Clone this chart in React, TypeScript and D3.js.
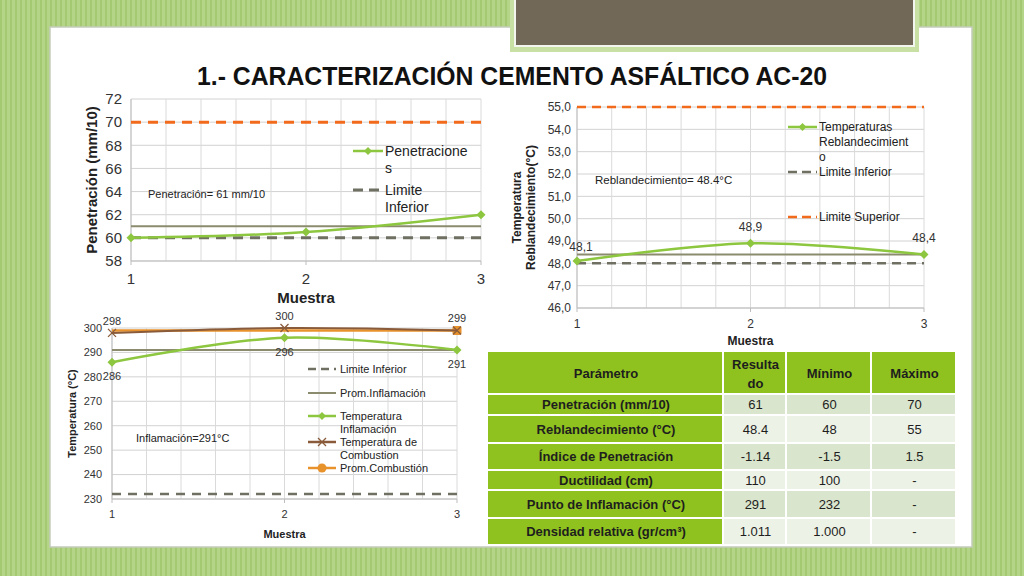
import React from 'react';
import * as d3 from 'd3';

// Data
const muestras = [1, 2, 3];

const penetraciones = [60, 60.5, 62];
const penLimiteInferior = [60, 60, 60];
const penLimiteSuperior = [70, 70, 70];
const penPromedio = [61, 61, 61];
const penTicks = [58, 60, 62, 64, 66, 68, 70, 72];

const reblandecimiento = [48.1, 48.9, 48.4];
const rebLimiteInferior = [48, 48, 48];
const rebLimiteSuperior = [55, 55, 55];
const rebPromedio = [48.4, 48.4, 48.4];
const rebTicks = [46, 47, 48, 49, 50, 51, 52, 53, 54, 55];

const inflamacion = [286, 296, 291];
const combustion = [298, 300, 299];
const promCombustion = [299, 299, 299];
const promInflamacion = [291, 291, 291];
const inflLimiteInferior = [232, 232, 232];
const inflTicks = [230, 240, 250, 260, 270, 280, 290, 300];

const tablaHeader = ['Parámetro', 'Resulta|do', 'Mínimo', 'Máximo'];
const parametros = [
  'Penetración (mm/10)',
  'Reblandecimiento (°C)',
  'Índice de Penetración',
  'Ductilidad (cm)',
  'Punto de Inflamación (°C)',
  'Densidad relativa (gr/cm³)'
];
const resultados = ['61', '48.4', '-1.14', '110', '291', '1.011'];
const minimos = ['60', '48', '-1.5', '100', '232', '1.000'];
const maximos = ['70', '55', '1.5', '-', '-', '-'];

// Colours
const GREEN = '#8dc63f';
const ORANGE = '#f26a1b';
const GREY = '#6f6f62';
const OLIVE = '#8b8c6e';
const BROWN = '#8a5b3a';
const ORANGE2 = '#e8922c';
const FONT = 'Liberation Sans, Arial, sans-serif';

const gridSteps = d3.range(1, 3.0001, 0.2);

function Diamond({ x, y, s = 5, fill }) {
  return <path d={`M${x},${y - s}L${x + s},${y}L${x},${y + s}L${x - s},${y}Z`} fill={fill} />;
}

function Chart({ left, right, top, bottom, domain, ticks, tickFmt, tickSize, series, labels, legend, legendX, lineX, yTitle, yTitleX, xTitleY, annotation, tickLabelGap }) {
  const x = d3.scaleLinear().domain([1, 3]).range([left, right]);
  const y = d3.scaleLinear().domain(domain).range([bottom, top]);
  const line = (vals, smooth) =>
    d3
      .line<number>()
      .x((_, i) => x(muestras[i]))
      .y(d => y(d))
      .curve(smooth ? d3.curveCatmullRom.alpha(0.5) : d3.curveLinear)(vals);

  return (
    <g fontFamily={FONT}>
      {/* grid */}
      {ticks.map(t => (
        <line key={'h' + t} x1={left} x2={right} y1={y(t)} y2={y(t)} stroke="#d2d2d2" strokeWidth={1} />
      ))}
      {gridSteps.map((g, i) => (
        <line key={'v' + i} x1={x(g)} x2={x(g)} y1={top} y2={bottom} stroke="#dadada" strokeWidth={1} />
      ))}
      <line x1={left} x2={left} y1={top} y2={bottom} stroke="#bdbdbd" />
      <line x1={left} x2={right} y1={bottom} y2={bottom} stroke="#bdbdbd" />
      {muestras.map(m => (
        <line key={'t' + m} x1={x(m)} x2={x(m)} y1={bottom} y2={bottom + 4} stroke="#bdbdbd" />
      ))}
      {/* tick labels */}
      {ticks.map(t => (
        <text key={'yl' + t} x={left - tickLabelGap} y={y(t)} dy="0.35em" textAnchor="end" fontSize={tickSize} fill="#333">
          {tickFmt(t)}
        </text>
      ))}
      {muestras.map(m => (
        <text key={'xl' + m} x={x(m)} y={bottom + tickSize + 8} textAnchor="middle" fontSize={tickSize} fill="#333">
          {m}
        </text>
      ))}
      {/* series */}
      {series.map((s, i) => (
        <g key={'s' + i}>
          <path
            d={line(s.values, s.smooth)}
            fill="none"
            stroke={s.color}
            strokeWidth={s.width}
            strokeDasharray={s.dash || null}
          />
          {s.marker &&
            s.values.map((v, j) => {
              if (s.markerAt && !s.markerAt.includes(j)) return null;
              const cx = x(muestras[j]);
              const cy = y(v);
              if (s.marker === 'diamond') return <Diamond key={j} x={cx} y={cy} s={4.5} fill={s.color} />;
              if (s.marker === 'x')
                return (
                  <path key={j} d={`M${cx - 4},${cy - 4}L${cx + 4},${cy + 4}M${cx - 4},${cy + 4}L${cx + 4},${cy - 4}`} stroke={s.color} strokeWidth={1.3} />
                );
              if (s.marker === 'circle') return <rect key={j} x={cx - 4.5} y={cy - 4.5} width={9} height={9} rx={2} fill={s.color} />;
              return null;
            })}
        </g>
      ))}
      {/* data labels */}
      {labels.map((l, i) => (
        <text key={'dl' + i} x={x(muestras[l.i]) + (l.dx || 0)} y={y(l.v) + l.dy} textAnchor="middle" fontSize={l.size} fill="#333">
          {l.text}
        </text>
      ))}
      {/* legend */}
      {legend.items.map((it, i) => (
        <g key={'lg' + i}>
          <line x1={lineX[0]} x2={lineX[1]} y1={it.y} y2={it.y} stroke={it.color} strokeWidth={it.width} strokeDasharray={it.dash || null} />
          {it.marker === 'diamond' && <Diamond x={(lineX[0] + lineX[1]) / 2} y={it.y} s={4} fill={it.color} />}
          {it.marker === 'x' && (
            <path
              d={`M${(lineX[0] + lineX[1]) / 2 - 4},${it.y - 4}l8,8m-8,0l8,-8`}
              stroke={it.color}
              strokeWidth={1.3}
            />
          )}
          {it.marker === 'circle' && <circle cx={(lineX[0] + lineX[1]) / 2} cy={it.y} r={4.5} fill={it.color} />}
          <text x={legendX} y={it.y} dy="0.35em" fontSize={legend.size} fill="#222">
            {it.lines.map((t, k) => (
              <tspan key={k} x={legendX} dy={k === 0 ? '0.35em' : legend.lh}>
                {t}
              </tspan>
            ))}
          </text>
        </g>
      ))}
      {/* annotation */}
      <text x={annotation.x} y={annotation.y} fontSize={annotation.size} fill="#222">
        {annotation.text}
      </text>
      {/* titles */}
      <text
        transform={`translate(${yTitleX},${(top + bottom) / 2}) rotate(-90)`}
        textAnchor="middle"
        fontSize={yTitle.size}
        fontWeight="bold"
        fill="#222"
      >
        {yTitle.lines.map((t, k) => (
          <tspan key={k} x={0} dy={k === 0 ? 0 : yTitle.size * 1.15}>
            {t}
          </tspan>
        ))}
      </text>
      <text x={(left + right) / 2} y={xTitleY} textAnchor="middle" fontSize={yTitle.size} fontWeight="bold" fill="#222">
        Muestra
      </text>
    </g>
  );
}

function Tabla() {
  const colX = [488, 724, 787, 872, 957];
  const rowY = [352, 395, 416, 444, 471, 491, 519, 546];
  const rows = parametros.map((p, i) => [p, resultados[i], minimos[i], maximos[i]]);
  return (
    <g fontFamily={FONT} fontSize={13}>
      {tablaHeader.map((h, c) => {
        const parts = h.split('|');
        const cx = (colX[c] + colX[c + 1]) / 2;
        const cy = (rowY[0] + rowY[1]) / 2;
        return (
          <g key={'h' + c}>
            <rect x={colX[c]} y={rowY[0]} width={colX[c + 1] - colX[c] - 2} height={rowY[1] - rowY[0] - 2} fill="#8fc21f" />
            <text x={cx} y={cy - (parts.length - 1) * 9} textAnchor="middle" dy="0.35em" fontWeight="bold" fill="#1e1e1e">
              {parts.map((t, k) => (
                <tspan key={k} x={cx} dy={k === 0 ? '0.35em' : 19}>
                  {t}
                </tspan>
              ))}
            </text>
          </g>
        );
      })}
      {rows.map((r, ri) =>
        r.map((v, c) => {
          const y0 = rowY[ri + 1];
          const y1 = rowY[ri + 2];
          const fill = c === 0 ? '#8fc21f' : ri % 2 === 0 ? '#d9e5cc' : '#edf2e6';
          return (
            <g key={ri + '-' + c}>
              <rect x={colX[c]} y={y0} width={colX[c + 1] - colX[c] - 2} height={y1 - y0 - 2} fill={fill} />
              <text
                x={(colX[c] + colX[c + 1]) / 2}
                y={(y0 + y1) / 2 - 1}
                dy="0.35em"
                textAnchor="middle"
                fontWeight={c === 0 ? 'bold' : 'normal'}
                fill="#1e1e1e"
              >
                {v}
              </text>
            </g>
          );
        })
      )}
    </g>
  );
}

export default function App() {
  return (
    <svg width={1024} height={576} style={{ position: 'fixed', left: 0, top: 0, display: 'block' }}>
      <defs>
        <pattern id="stripes" width={5} height={10} patternUnits="userSpaceOnUse">
          <rect width={5} height={10} fill="#b4d487" />
          <rect width={2} height={10} fill="#a5c873" />
        </pattern>
      </defs>
      <rect width={1024} height={576} fill="url(#stripes)" />
      {/* white panel */}
      <rect x={50} y={27} width={922} height={520} fill="#ffffff" stroke="#c4cbbb" strokeWidth={1.5} />
      {/* brown box at top */}
      <rect x={510} y={-4} width={409} height={56} fill="#c9e0a4" />
      <rect x={514} y={-4} width={401} height={51} fill="#f3f6ee" />
      <rect x={516} y={-4} width={397} height={49} fill="#716858" />

      <text x={512} y={85} textAnchor="middle" fontFamily="Liberation Sans Narrow, Liberation Sans, Arial" fontWeight="bold" fontSize={26} fill="#111" textLength={630} lengthAdjust="spacingAndGlyphs">
        1.-  CARACTERIZACIÓN CEMENTO ASFÁLTICO AC-20
      </text>

      <Chart
        left={131}
        right={481}
        top={99}
        bottom={261}
        domain={[58, 72]}
        ticks={penTicks}
        tickFmt={d => String(d)}
        tickSize={15}
        tickLabelGap={9}
        series={[
          { values: penLimiteSuperior, color: ORANGE, width: 3, dash: '10 7' },
          { values: penPromedio, color: OLIVE, width: 2 },
          { values: penLimiteInferior, color: GREY, width: 3, dash: '10 7' },
          { values: penetraciones, color: GREEN, width: 2.5, smooth: true, marker: 'diamond' }
        ]}
        labels={[]}
        legend={{
          size: 14,
          lh: 17,
          items: [
            { y: 151, lines: ['Penetracione', 's'], color: GREEN, width: 2.5, marker: 'diamond' },
            { y: 190, lines: ['Limite', 'Inferior'], color: GREY, width: 3, dash: '10 6' }
          ]
        }}
        lineX={[353, 383]}
        legendX={385}
        yTitle={{ size: 15, lines: ['Penetración (mm/10)'] }}
        yTitleX={97}
        xTitleY={303}
        annotation={{ x: 148, y: 198, size: 11, text: 'Penetración= 61 mm/10' }}
      />

      <Chart
        left={577}
        right={924}
        top={107}
        bottom={308}
        domain={[46, 55]}
        ticks={rebTicks}
        tickFmt={d => d.toFixed(1).replace('.', ',')}
        tickSize={12}
        tickLabelGap={6}
        series={[
          { values: rebLimiteSuperior, color: ORANGE, width: 2.5, dash: '9 6' },
          { values: rebPromedio, color: OLIVE, width: 2 },
          { values: rebLimiteInferior, color: GREY, width: 2.5, dash: '9 6' },
          { values: reblandecimiento, color: GREEN, width: 2.5, smooth: true, marker: 'diamond' }
        ]}
        labels={reblandecimiento.map((v, i) => ({
          i,
          v,
          dy: i === 0 ? -10 : -12,
          dx: i === 0 ? 4 : 0,
          size: 12,
          text: v.toFixed(1).replace('.', ',')
        }))}
        legend={{
          size: 12,
          lh: 15,
          items: [
            { y: 127, lines: ['Temperaturas', 'Reblandecimient', 'o'], color: GREEN, width: 2.5, marker: 'diamond' },
            { y: 172, lines: ['Limite Inferior'], color: GREY, width: 2.5, dash: '9 5' },
            { y: 217, lines: ['Limite Superior'], color: ORANGE, width: 2.5, dash: '9 5' }
          ]
        }}
        lineX={[788, 817]}
        legendX={819}
        yTitle={{ size: 12, lines: ['Temperatura', 'Reblandecimiento(°C)'] }}
        yTitleX={521}
        xTitleY={345}
        annotation={{ x: 595, y: 184, size: 11.5, text: 'Reblandecimiento= 48.4°C' }}
      />

      <Chart
        left={112}
        right={457}
        top={328}
        bottom={499}
        domain={[230, 300]}
        ticks={inflTicks}
        tickFmt={d => String(d)}
        tickSize={11}
        tickLabelGap={10}
        series={[
          { values: inflLimiteInferior, color: GREY, width: 2.5, dash: '9 7' },
          { values: promInflamacion, color: OLIVE, width: 2 },
          { values: inflamacion, color: GREEN, width: 2.5, smooth: true, marker: 'diamond' },
          { values: promCombustion, color: ORANGE2, width: 2.5, marker: 'circle', markerAt: [2] },
          { values: combustion, color: BROWN, width: 2, smooth: true, marker: 'x' }
        ]}
        labels={[
          ...combustion.map((v, i) => ({ i, v, dy: -8, dx: 0, size: 11, text: String(v) })),
          ...inflamacion.map((v, i) => ({ i, v, dy: 18, dx: 0, size: 11, text: String(v) }))
        ]}
        legend={{
          size: 11,
          lh: 13,
          items: [
            { y: 369, lines: ['Limite Inferior'], color: GREY, width: 2.5, dash: '8 5' },
            { y: 393, lines: ['Prom.Inflamación'], color: OLIVE, width: 2 },
            { y: 416, lines: ['Temperatura', 'Inflamación'], color: GREEN, width: 2.5, marker: 'diamond' },
            { y: 442, lines: ['Temperatura de', 'Combustion'], color: BROWN, width: 2.5, marker: 'x' },
            { y: 468, lines: ['Prom.Combustión'], color: ORANGE2, width: 2.5, marker: 'circle' }
          ]
        }}
        lineX={[308, 336]}
        legendX={340}
        yTitle={{ size: 11, lines: ['Temperatura (°C)'] }}
        yTitleX={76}
        xTitleY={538}
        annotation={{ x: 136, y: 442, size: 11, text: 'Inflamación=291°C' }}
      />

      <Tabla />
    </svg>
  );
}
